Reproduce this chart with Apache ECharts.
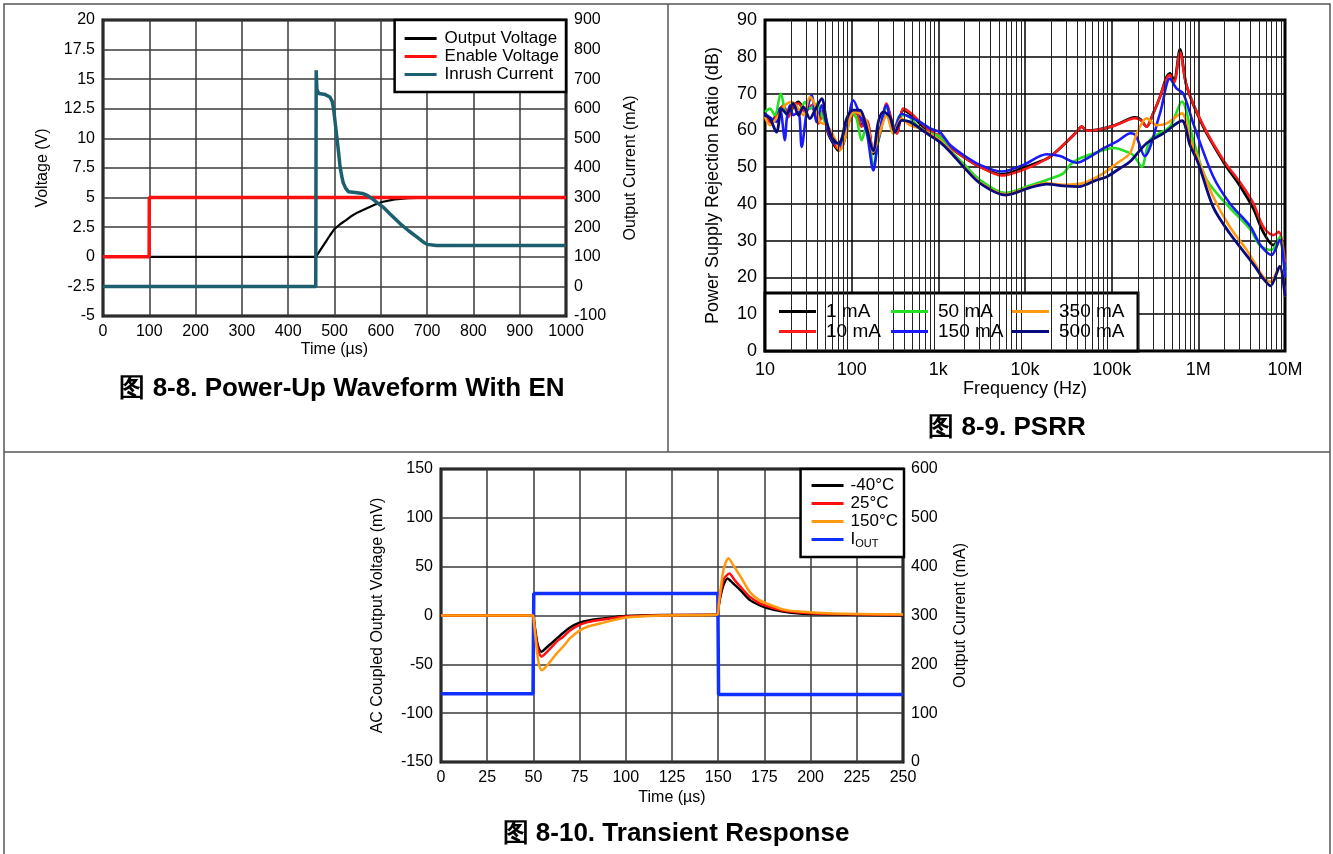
<!DOCTYPE html>
<html>
<head>
<meta charset="utf-8">
<script src="https://cdn.jsdelivr.net/npm/echarts@6/dist/echarts.min.js"></script>
<style>
	html, body { margin: 0; padding: 0; background: #fff; }
	#main { width: 1333px; height: 854px; }
</style>
</head>
<body>
<div id="main"></div>
<script>
// 图 8-8 上电波形 (time in us)
var enableVoltage = [[0, 0], [99.6, 0], [100, 5], [1000, 5]];
var outputVoltage = [[0, 0], [460, 0], [470, 0.6], [480, 1.2], [490, 1.8], [500, 2.35], [512, 2.75], [525, 3.1], [535, 3.4],
	[550, 3.75], [570, 4.1], [590, 4.45], [605, 4.65], [630, 4.85], [660, 4.95], [700, 5], [1000, 5]];
var inrushCurrent = [[0, 0], [459.5, 0], [460.5, 730], [462, 665], [466, 652], [480, 648], [490, 640], [495, 625], [498, 600],
	[501, 560], [505, 505], [509, 450], [512, 404], [516, 370], [519, 349], [524, 332], [530, 320], [545, 317], [560, 314],
	[570, 308], [580, 298], [592, 283], [605, 268], [620, 245], [641, 213], [660, 188], [677, 168], [690, 152], [700, 142],
	[720, 138], [1000, 138]];

// 图 8-9 PSRR (Hz, dB)
var freqLabels = ['10', '100', '1k', '10k', '100k', '1M', '10M'];
var psrr1mA = [[10, 64.5], [11.9, 62.3], [14.3, 65.5], [16.3, 66.4], [18.6, 64.1], [21.2, 66.4], [24.3, 67.7], [28.9, 65.5],
	[34.5, 66.4], [41.3, 62.3], [47.1, 65.5], [53.8, 59.1], [61.4, 56.4], [70.2, 54.5], [80.2, 56.4], [95.7, 63.2], [114, 65],
	[130, 61.4], [149, 62.3], [178, 53.6], [212, 59.1], [253, 66.8], [290, 62.3], [331, 59.5], [395, 65.5], [492, 64.1],
	[614, 61.8], [802, 59.5], [1045, 58.2], [1365, 55.5], [1945, 52.8], [3030, 50.1], [5385, 48], [9570, 49.8], [14900, 51.5],
	[19450, 52.8], [27700, 56], [39500, 59.6], [45100, 61], [51500, 59.9], [67200, 60.1], [104600, 61.2], [163000, 63.2],
	[185000, 63.5], [215000, 63], [253000, 61], [300000, 64.5], [361000, 69.1], [430000, 74.5], [470000, 75.5], [525000, 73.5],
	[614000, 82], [733000, 72], [1140000, 61], [2000000, 51], [3000000, 45], [4300000, 38.8], [5600000, 32.4], [7300000, 28.8],
	[8700000, 30.6], [10000000, 22]];
var psrr10mA = [[10, 64], [11.9, 62], [14.3, 65], [16.3, 66.8], [18.6, 63.6], [21.2, 66.8], [24.3, 67.3], [28.9, 65],
	[34.5, 66.8], [41.3, 61.8], [47.1, 65], [53.8, 59.5], [61.4, 56.8], [70.2, 55], [80.2, 56.8], [95.7, 63.6], [114, 64.5],
	[130, 61], [149, 62.7], [178, 54.1], [212, 59.5], [253, 67.3], [290, 62.7], [331, 59.1], [395, 65.9], [492, 64.5],
	[614, 62.3], [802, 59.8], [1045, 58.4], [1365, 55.5], [1945, 52.8], [3030, 50.1], [5385, 47.7], [9570, 49.3], [14900, 51.3],
	[19450, 52.8], [27700, 56], [39500, 59.6], [45100, 61], [51500, 59.9], [67200, 60.1], [104600, 61.2], [163000, 63],
	[185000, 63.3], [215000, 62.8], [253000, 61], [300000, 64.5], [361000, 69.1], [430000, 74], [470000, 75], [525000, 73],
	[614000, 81.2], [733000, 72], [1140000, 61.3], [2000000, 51.5], [3000000, 46], [4300000, 40.2], [5600000, 33.8],
	[7300000, 31.5], [8500000, 32.4], [10000000, 24]];
var psrr50mA = [[10, 65], [11.4, 65.9], [13, 64.1], [15.2, 70], [17.8, 64.1], [21.2, 67.3], [25.3, 65.5], [28.9, 67.7],
	[33, 65.9], [39.5, 67.3], [45.1, 64.1], [53.8, 60.5], [64.2, 56.8], [76.7, 56.4], [87.5, 59.5], [100, 65], [114, 63.2],
	[130, 57.3], [149, 61.4], [178, 50.5], [212, 59.5], [253, 66.4], [303, 59.1], [361, 64.1], [431, 64.1], [562, 61.4],
	[733, 59.5], [1045, 58.2], [1365, 54.6], [1945, 51], [3030, 46.5], [5875, 43], [11400, 45], [17800, 46.5], [27700, 48.3],
	[33000, 50.6], [43150, 52.4], [80200, 54.6], [104600, 55.2], [163000, 53.8], [185000, 52.8], [222000, 50.1],
	[277000, 57.4], [470000, 61], [645000, 67.8], [873000, 57.4], [1250000, 46.5], [2300000, 39], [4000000, 33],
	[5200000, 28.5], [7000000, 27.5], [8700000, 31], [10000000, 20]];
var psrr150mA = [[10, 64.5], [11.9, 63.2], [13.6, 62.3], [14.9, 65.9], [17, 57.3], [17.8, 63], [19.4, 66.8], [21.2, 64.1],
	[24.3, 65], [26.5, 55.5], [30.3, 65], [34.5, 69.5], [39.5, 62.3], [45.1, 66.8], [51.5, 61.4], [61.4, 56.8], [73.3, 55.9],
	[87.5, 60.5], [104.5, 68.2], [125, 64.1], [149, 59.5], [178, 49.1], [203, 57.7], [253, 66.8], [303, 59.5], [378, 64.5],
	[471, 63.6], [614, 62.3], [802, 60.5], [1045, 59.5], [1365, 56], [1945, 53.3], [3030, 50.6], [5385, 48.8], [9570, 50.6],
	[17800, 53.5], [25350, 53], [39500, 51.2], [56200, 52.8], [80200, 55.1], [114300, 56.9], [166000, 59.2], [190000, 58.6],
	[240000, 53], [361000, 64.6], [470000, 74.1], [560000, 71.4], [670000, 70], [873000, 61.9], [1480000, 47.5],
	[2300000, 40.2], [4000000, 33.8], [5200000, 28.8], [7000000, 26.1], [8700000, 30.2], [10000000, 20]];
var psrr350mA = [[10, 63.6], [11.4, 61.4], [14.3, 64.1], [17, 66.8], [20.3, 67.7], [24.3, 65.9], [27.7, 64.1], [33, 69.1],
	[37.8, 66.8], [43.1, 62.3], [51.5, 61.4], [64.2, 57.7], [73.3, 54.5], [87.5, 59.5], [104.5, 65], [125, 64.5], [149, 62.3],
	[178, 54.1], [212, 59.5], [253, 64.1], [303, 59.1], [378, 63.2], [471, 61.4], [614, 60.5], [1045, 57.3], [1365, 54.4],
	[1945, 50.3], [3030, 45.8], [6000, 42.6], [11400, 44.6], [17800, 45.6], [27700, 45.2], [46000, 45.6], [80200, 48.3],
	[114300, 51], [163000, 53.8], [195000, 59.2], [253000, 63.3], [330000, 61.4], [431000, 61.9], [645000, 64.6],
	[800000, 58], [1000000, 52], [1480000, 42], [2300000, 33.8], [3600000, 27.5], [4500000, 23.8], [5600000, 20.2],
	[6800000, 18.8], [8700000, 23.1], [10000000, 14.8]];
var psrr500mA = [[10, 64.1], [11.4, 63.2], [13.6, 59.5], [15.6, 65.9], [17.8, 64.5], [21.2, 67.3], [24.3, 64.1], [27.7, 66.4],
	[33, 63.2], [37.8, 65.5], [45.1, 68.6], [51.5, 62.3], [58.8, 58.2], [70.2, 56.4], [76.7, 57.7], [87.5, 63.2], [104.5, 65.5],
	[125, 65.5], [142.5, 62.3], [178, 54.5], [203, 62.3], [232, 65], [277, 63.6], [316, 59.5], [378, 62.7], [471, 62.3],
	[614, 60.5], [802, 58.6], [1045, 56.8], [1365, 54.2], [1945, 50.1], [3030, 45.6], [6000, 42.4], [11400, 44.4],
	[17800, 45.4], [27700, 44.9], [42000, 44.7], [67200, 46.5], [88000, 47.4], [125000, 49.7], [163000, 51.5], [253000, 56.5],
	[397000, 59.2], [645000, 62.6], [800000, 56], [1000000, 51], [1480000, 39.2], [2300000, 32], [3600000, 26],
	[4500000, 23], [5600000, 19.7], [6800000, 17.7], [8700000, 23], [10000000, 14.8]];

// 图 8-10 瞬态响应 (time in us)
var iout = [[0, 140], [49.8, 140], [50.2, 345], [149.8, 345], [150.2, 138], [250, 138]];
var vMinus40 = [[0, 0], [49.7, 0], [50.2, -4], [51, -15], [52, -27], [53, -34], [54.5, -37], [57, -33], [60, -28], [63, -23],
	[66, -18], [70, -12], [75, -7.3], [80, -5], [88, -3], [100, -0.5], [120, 0.5], [149.7, 1], [150.3, 10], [151.5, 22],
	[153, 32], [155, 38], [158, 33], [162, 26], [167, 16], [172, 11], [176, 8], [185, 4], [194, 2], [212, 1], [250, 0]];
var v25 = [[0, 0], [49.7, 0], [50.2, -4], [51, -17], [52, -30], [53, -38], [54.5, -42], [57, -38], [60, -32], [63, -26],
	[66, -22], [70, -15], [75, -9.7], [80, -6.5], [88, -4], [100, -1], [120, 0.3], [149.7, 1], [150.3, 11], [151.5, 25],
	[153, 37], [156, 43], [159, 36], [162, 29.5], [167, 19.3], [172, 13], [176, 9.8], [185, 5], [194, 3], [212, 1.5], [250, 0.5]];
var v150 = [[0, 0], [49.7, 0], [50.2, -5], [51, -20], [52, -38], [53, -50], [54.5, -56], [57, -52], [60, -45], [63, -38],
	[66, -32], [70, -23], [75, -15.5], [80, -11], [88, -7.3], [100, -2], [120, 0], [149.7, 1], [150.3, 12], [151.5, 30],
	[153, 48], [155.5, 58.5], [158, 52], [162, 40], [167, 24.4], [172, 16], [176, 12.5], [185, 6.3], [194, 4], [212, 2], [250, 1]];

var FONT = 'Arial, "Liberation Sans", Helvetica, sans-serif';

function minorFreqs() {
	var out = [];
	for (var d = 10; d < 1e7; d *= 10) {
		for (var k = 2; k <= 9; k++) {
			out.push({ xAxis: d * k });
		}
	}
	return out;
}

function valueAxis(grid, min, max, interval, size, extra) {
	var ax = {
		gridIndex: grid,
		type: 'value',
		min: min,
		max: max,
		interval: interval,
		axisLine: { show: false },
		axisTick: { show: false },
		axisLabel: {
			fontSize: size, color: '#000', margin: 8, fontFamily: FONT,
			formatter: function(v) { return String(v); }
		},
		splitLine: { show: true, lineStyle: { color: '#3a3a3a', width: 1.5 } },
		nameLocation: 'middle',
		nameTextStyle: { fontSize: size, color: '#000', fontFamily: FONT }
	};
	for (var key in extra) ax[key] = extra[key];
	return ax;
}

function lineSeries(name, data, color, width, x, y, smooth) {
	return {
		name: name,
		type: 'line',
		xAxisIndex: x,
		yAxisIndex: y,
		data: data,
		showSymbol: false,
		symbol: 'none',
		smooth: smooth || false,
		lineStyle: { color: color, width: width },
		itemStyle: { color: color },
		animation: false
	};
}

function initChart(el) {
	var chart = echarts.init(el);

	var option = {
		animation: false,
		backgroundColor: '#fff',
		textStyle: { fontFamily: FONT },
		title: [
			{ text: '图 8-8. Power-Up Waveform With EN', left: 337, top: 371, textAlign: 'center',
				textStyle: { fontSize: 26, fontWeight: 'bold', color: '#000', fontFamily: FONT } },
			{ text: '图 8-9. PSRR', left: 1002, top: 410, textAlign: 'center',
				textStyle: { fontSize: 26, fontWeight: 'bold', color: '#000', fontFamily: FONT } },
			{ text: '图 8-10. Transient Response', left: 671, top: 816, textAlign: 'center',
				textStyle: { fontSize: 26, fontWeight: 'bold', color: '#000', fontFamily: FONT } }
		],
		grid: [
			{ left: 103, top: 20, width: 463, height: 296, show: true, borderColor: '#000', borderWidth: 3, backgroundColor: '#fff' },
			{ left: 765, top: 20, width: 520, height: 331, show: true, borderColor: '#000', borderWidth: 3, backgroundColor: '#fff' },
			{ left: 441, top: 469, width: 462, height: 293, show: true, borderColor: '#000', borderWidth: 3, backgroundColor: '#fff' }
		],
		xAxis: [
			valueAxis(0, 0, 1000, 100, 16, { name: 'Time (µs)', nameGap: 26 }),
			{
				gridIndex: 1,
				type: 'log',
				logBase: 10,
				min: 10,
				max: 1e7,
				splitNumber: 6,
				axisLine: { show: false },
				axisTick: { show: false },
				minorTick: { show: false },
				axisLabel: {
					fontSize: 18, color: '#000', margin: 10, fontFamily: FONT,
					formatter: function(v) {
						return freqLabels[Math.round(Math.log(v) / Math.LN10) - 1];
					}
				},
				splitLine: { show: true, lineStyle: { color: '#000', width: 1.5 } },
				name: 'Frequency (Hz)',
				nameLocation: 'middle',
				nameGap: 29,
				nameTextStyle: { fontSize: 18, color: '#000', fontFamily: FONT }
			},
			valueAxis(2, 0, 250, 25, 16, { name: 'Time (µs)', nameGap: 28 })
		],
		yAxis: [
			valueAxis(0, -5, 20, 2.5, 16, { name: 'Voltage (V)', nameGap: 52 }),
			valueAxis(0, -100, 900, 100, 16, { name: 'Output Current (mA)', nameGap: 57, position: 'right',
				splitLine: { show: false } }),
			valueAxis(1, 0, 90, 10, 18, { name: 'Power Supply Rejection Ratio (dB)', nameGap: 43,
				splitLine: { show: true, lineStyle: { color: '#000', width: 1.5 } } }),
			valueAxis(2, -150, 150, 50, 16, { name: 'AC Coupled Output Voltage (mV)', nameGap: 55 }),
			valueAxis(2, 0, 600, 100, 16, { name: 'Output Current (mA)', nameGap: 50, position: 'right',
				splitLine: { show: false } })
		],
		legend: [
			{
				data: ['Output Voltage', 'Enable Voltage', 'Inrush Current'],
				orient: 'vertical', right: 767, top: 20,
				backgroundColor: '#fff', borderColor: '#000', borderWidth: 2.5,
				padding: [10, 7, 9, 10], itemGap: 1, itemWidth: 32, itemHeight: 3, icon: 'rect',
				selectedMode: false, z: 6,
				textStyle: { fontSize: 17, lineHeight: 17, color: '#000', fontFamily: FONT, padding: [0, 0, 0, 3] }
			},
			{
				data: ['1 mA', '10 mA'], orient: 'vertical', left: 779, top: 302,
				padding: 0, itemGap: 1, itemWidth: 37, itemHeight: 3, icon: 'rect', selectedMode: false, z: 6,
				textStyle: { fontSize: 19, lineHeight: 19, color: '#000', fontFamily: FONT, padding: [0, 0, 0, 5] }
			},
			{
				data: ['50 mA', '150 mA'], orient: 'vertical', left: 891, top: 302,
				padding: 0, itemGap: 1, itemWidth: 37, itemHeight: 3, icon: 'rect', selectedMode: false, z: 6,
				textStyle: { fontSize: 19, lineHeight: 19, color: '#000', fontFamily: FONT, padding: [0, 0, 0, 5] }
			},
			{
				data: ['350 mA', '500 mA'], orient: 'vertical', left: 1012, top: 302,
				padding: 0, itemGap: 1, itemWidth: 37, itemHeight: 3, icon: 'rect', selectedMode: false, z: 6,
				textStyle: { fontSize: 19, lineHeight: 19, color: '#000', fontFamily: FONT, padding: [0, 0, 0, 5] }
			},
			{
				data: ['-40°C', '25°C', '150°C', 'IOUT'],
				orient: 'vertical', right: 429, top: 469,
				backgroundColor: '#fff', borderColor: '#000', borderWidth: 2.5,
				padding: [8, 6, 8, 11], itemGap: 1, itemWidth: 32, itemHeight: 3, icon: 'rect',
				selectedMode: false, z: 6,
				formatter: function(name) {
					return name === 'IOUT' ? '{n|I}{s|OUT}' : name;
				},
				textStyle: {
					fontSize: 17, lineHeight: 17, color: '#000', fontFamily: FONT, padding: [0, 0, 0, 2],
					rich: {
						n: { fontSize: 17, color: '#000', fontFamily: FONT },
						s: { fontSize: 11, color: '#000', fontFamily: FONT, padding: [8, 0, 0, 0] }
					}
				}
			}
		],
		graphic: [
			{ type: 'rect', z: 100, silent: true, shape: { x: 4, y: 4, width: 1326, height: 870 },
				style: { fill: null, stroke: '#555', lineWidth: 1.5 } },
			{ type: 'line', z: 100, silent: true, shape: { x1: 668, y1: 4, x2: 668, y2: 452 },
				style: { stroke: '#555', lineWidth: 1.5 } },
			{ type: 'line', z: 100, silent: true, shape: { x1: 4, y1: 452, x2: 1330, y2: 452 },
				style: { stroke: '#555', lineWidth: 1.5 } },
			{ type: 'rect', z: 5, silent: true, shape: { x: 765, y: 293, width: 373, height: 58 },
				style: { fill: '#fff', stroke: '#000', lineWidth: 3 } }
		],
		series: [
			lineSeries('Output Voltage', outputVoltage, '#000', 2.2, 0, 0),
			lineSeries('Enable Voltage', enableVoltage, '#ff1010', 3.5, 0, 0),
			lineSeries('Inrush Current', inrushCurrent, '#1c5f6e', 3.5, 0, 1),

			{
				name: 'minor', type: 'line', xAxisIndex: 1, yAxisIndex: 2, data: [], silent: true, z: 1,
				markLine: {
					silent: true, symbol: ['none', 'none'], label: { show: false }, animation: false,
					lineStyle: { color: '#222', width: 1, type: 'solid' },
					data: minorFreqs()
				}
			},
			lineSeries('1 mA', psrr1mA, '#000', 2.8, 1, 2, 0.3),
			lineSeries('10 mA', psrr10mA, '#ff1a1a', 2.6, 1, 2, 0.3),
			lineSeries('50 mA', psrr50mA, '#22e022', 2.6, 1, 2, 0.3),
			lineSeries('150 mA', psrr150mA, '#1a1aff', 2.6, 1, 2, 0.3),
			lineSeries('350 mA', psrr350mA, '#ff9a10', 2.6, 1, 2, 0.3),
			lineSeries('500 mA', psrr500mA, '#0a0a80', 2.8, 1, 2, 0.3),

			lineSeries('IOUT', iout, '#1030ff', 3.5, 2, 4),
			lineSeries('-40°C', vMinus40, '#000', 2.5, 2, 3, 0.25),
			lineSeries('25°C', v25, '#ff1010', 2.5, 2, 3, 0.25),
			lineSeries('150°C', v150, '#ff9a10', 2.5, 2, 3, 0.25)
		]
	};

	chart.setOption(option);
	return chart;
}

initChart(document.getElementById('main'));
</script>
</body>
</html>
